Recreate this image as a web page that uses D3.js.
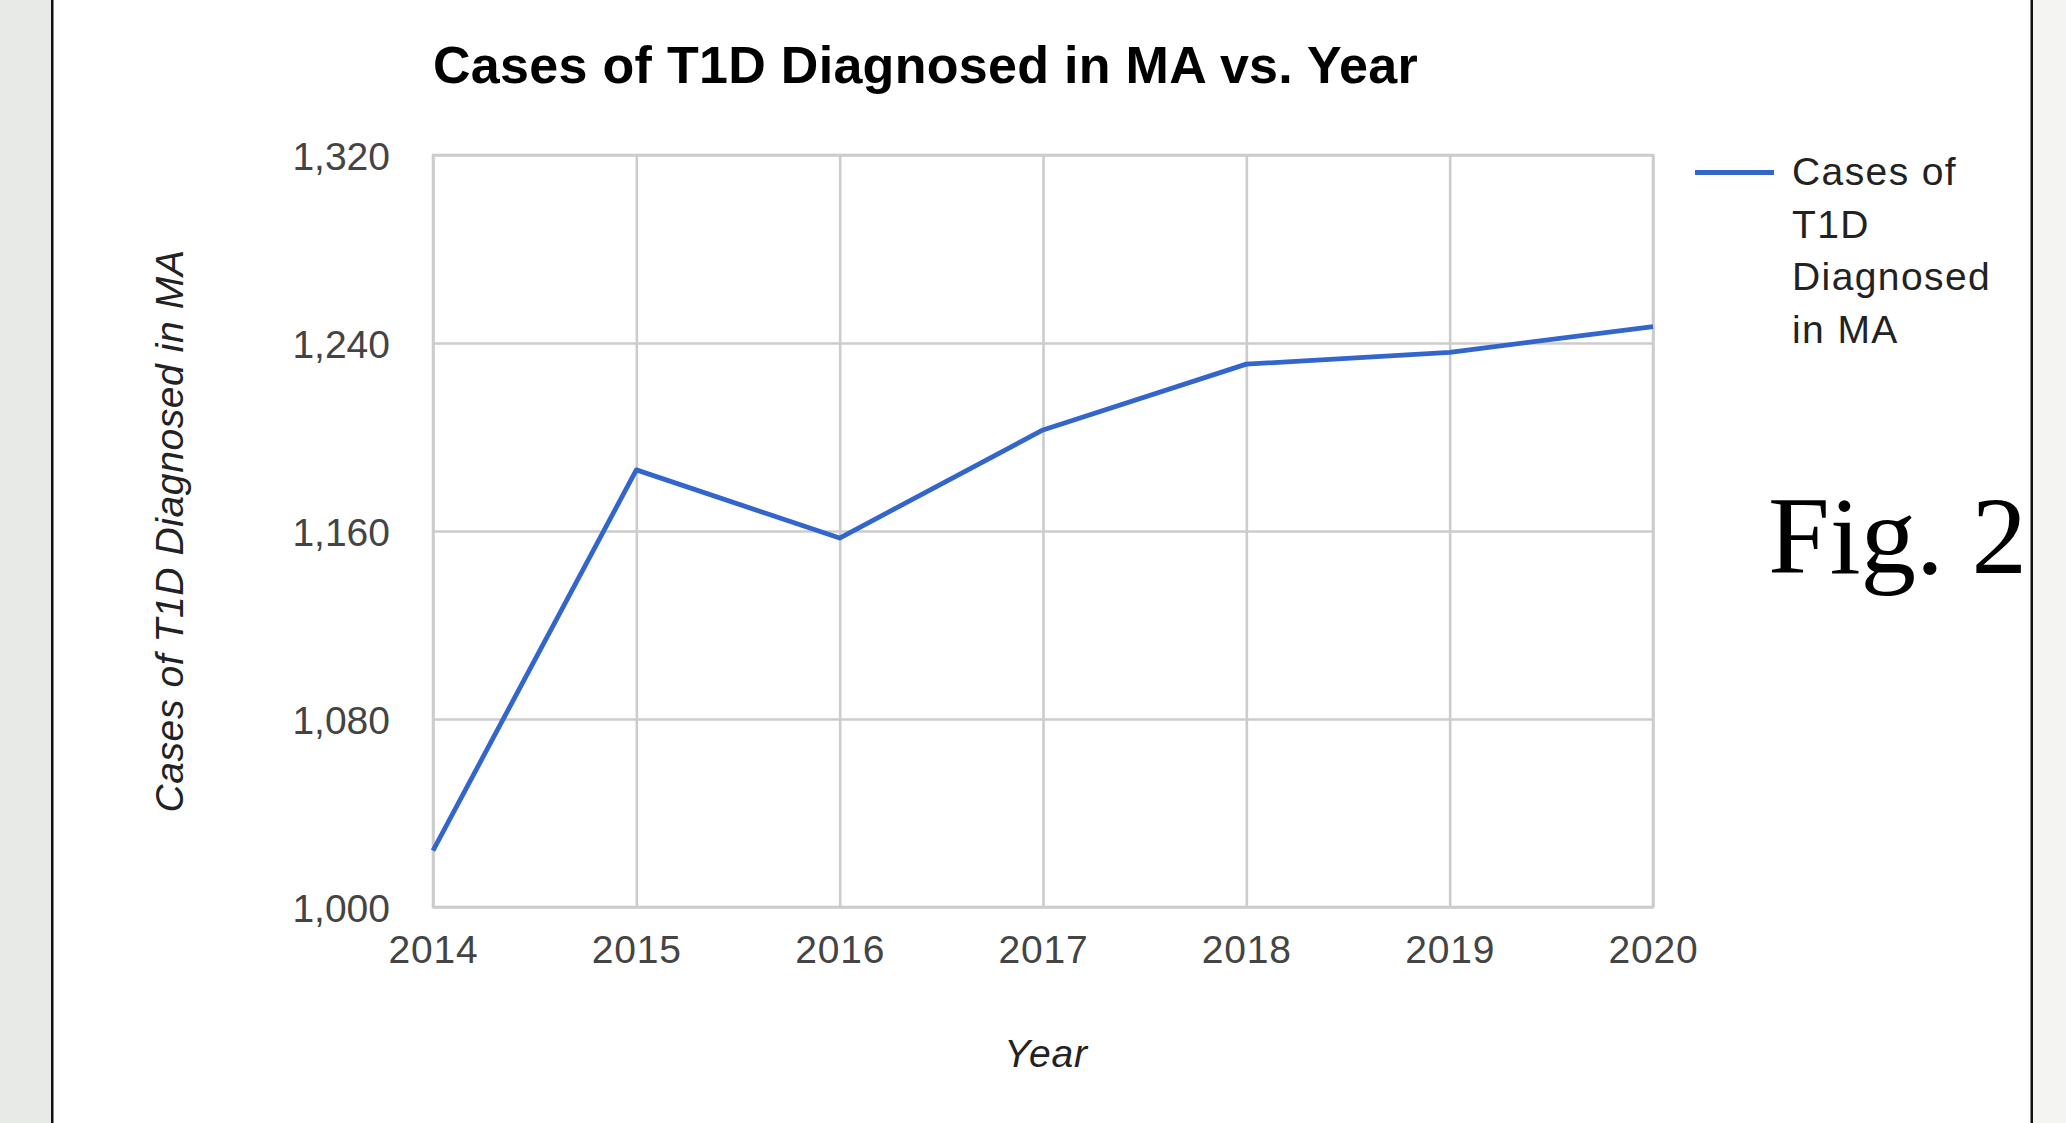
<!DOCTYPE html>
<html>
<head>
<meta charset="utf-8">
<script src="https://cdn.jsdelivr.net/npm/d3@7"></script>
<style>
  html, body { margin: 0; padding: 0; background: #ffffff; }
  svg { display: block; }
</style>
</head>
<body>
<svg id="chart" width="2066" height="1123"></svg>
<script>
// ---- data ----
const years = [2014, 2015, 2016, 2017, 2018, 2019, 2020];
const cases = [1024, 1186, 1157, 1203, 1231, 1236, 1247];
const yTicks = [1000, 1080, 1160, 1240, 1320];
const xTicks = [2014, 2015, 2016, 2017, 2018, 2019, 2020];
const titleText = "Cases of T1D Diagnosed in MA vs. Year";
const yAxisTitle = "Cases of T1D Diagnosed in MA";
const xAxisTitle = "Year";
const legendLines = ["Cases of", "T1D", "Diagnosed", "in MA"];
const figLabel = "Fig. 2";

// ---- layout ----
const W = 2066, H = 1123;
const plot = { left: 433, right: 1653, top: 155, bottom: 907 };
const lineColor = "#3366cc";
const gridColor = "#cccccc";
const sans = "'Liberation Sans', Arial, sans-serif";

const svg = d3.select("#chart");

// page frame: side bands and black borders
svg.append("rect").attr("x", 0).attr("y", 0).attr("width", W).attr("height", H).attr("fill", "#ffffff");
svg.append("rect").attr("x", 0).attr("y", 0).attr("width", 51).attr("height", H).attr("fill", "#e8eae7");
svg.append("rect").attr("x", 51).attr("y", 0).attr("width", 2.5).attr("height", H).attr("fill", "#111111");
svg.append("rect").attr("x", 2033).attr("y", 0).attr("width", 33).attr("height", H).attr("fill", "#f4f4f2");
svg.append("rect").attr("x", 2030.5).attr("y", 0).attr("width", 2.5).attr("height", H).attr("fill", "#111111");

const x = d3.scaleLinear().domain([2014, 2020]).range([plot.left, plot.right]);
const y = d3.scaleLinear().domain([1000, 1320]).range([plot.bottom, plot.top]);

// vertical gridlines + x tick labels
const xAxis = d3.axisBottom(x)
  .tickValues(xTicks)
  .tickFormat(d3.format("d"))
  .tickSize(-(plot.bottom - plot.top))
  .tickPadding(0);
const gx = svg.append("g").attr("transform", `translate(0,${plot.bottom})`).call(xAxis);
gx.select(".domain").remove();
gx.selectAll(".tick line").attr("stroke", gridColor).attr("stroke-width", 2.6);
gx.selectAll(".tick text")
  .attr("y", 56).attr("dy", null)
  .attr("font-family", sans).attr("font-size", 39).attr("letter-spacing", 0.8).attr("fill", "#444444");

// horizontal gridlines + y tick labels
const yAxis = d3.axisLeft(y)
  .tickValues(yTicks)
  .tickFormat(d3.format(","))
  .tickSize(-(plot.right - plot.left))
  .tickPadding(0);
const gy = svg.append("g").attr("transform", `translate(${plot.left},0)`).call(yAxis);
gy.select(".domain").remove();
gy.selectAll(".tick line").attr("stroke", gridColor).attr("stroke-width", 2.6);
gy.selectAll(".tick text")
  .attr("x", -43).attr("dy", "0.36em")
  .attr("font-family", sans).attr("font-size", 39).attr("fill", "#444444");

// plot frame
svg.append("rect")
  .attr("x", plot.left).attr("y", plot.top)
  .attr("width", plot.right - plot.left).attr("height", plot.bottom - plot.top)
  .attr("fill", "none").attr("stroke", gridColor).attr("stroke-width", 2.6);

// data line
const line = d3.line().x((d, i) => x(years[i])).y(d => y(d));
svg.append("path")
  .datum(cases)
  .attr("d", line)
  .attr("fill", "none")
  .attr("stroke", lineColor)
  .attr("stroke-width", 4.8)
  .attr("stroke-linejoin", "round");

// title
svg.append("text")
  .attr("x", 433).attr("y", 83)
  .attr("font-family", sans).attr("font-weight", "bold").attr("font-size", 52)
  .attr("letter-spacing", 0.3)
  .attr("fill", "#000000")
  .text(titleText);

// y axis title
svg.append("text")
  .attr("transform", `translate(183,${(plot.top + plot.bottom) / 2}) rotate(-90)`)
  .attr("text-anchor", "middle")
  .attr("font-family", sans).attr("font-style", "italic").attr("font-size", 39)
  .attr("letter-spacing", 0.6)
  .attr("fill", "#222222")
  .text(yAxisTitle);

// x axis title
svg.append("text")
  .attr("x", (plot.left + plot.right) / 2 + 3).attr("y", 1067)
  .attr("text-anchor", "middle")
  .attr("font-family", sans).attr("font-style", "italic").attr("font-size", 39)
  .attr("letter-spacing", 0.8)
  .attr("fill", "#222222")
  .text(xAxisTitle);

// legend
svg.append("line")
  .attr("x1", 1695).attr("x2", 1774).attr("y1", 172.5).attr("y2", 172.5)
  .attr("stroke", lineColor).attr("stroke-width", 5);
svg.append("g").selectAll("text")
  .data(legendLines)
  .join("text")
  .attr("x", 1792)
  .attr("y", (d, i) => 185 + i * 52.7)
  .attr("font-family", sans).attr("font-size", 39).attr("letter-spacing", 1.4).attr("fill", "#222222")
  .text(d => d);

// figure label
svg.append("text")
  .attr("x", 1768).attr("y", 573)
  .attr("font-family", "'Liberation Serif', 'DejaVu Serif', serif").attr("font-size", 111)
  .attr("fill", "#000000")
  .text(figLabel);
</script>
</body>
</html>
